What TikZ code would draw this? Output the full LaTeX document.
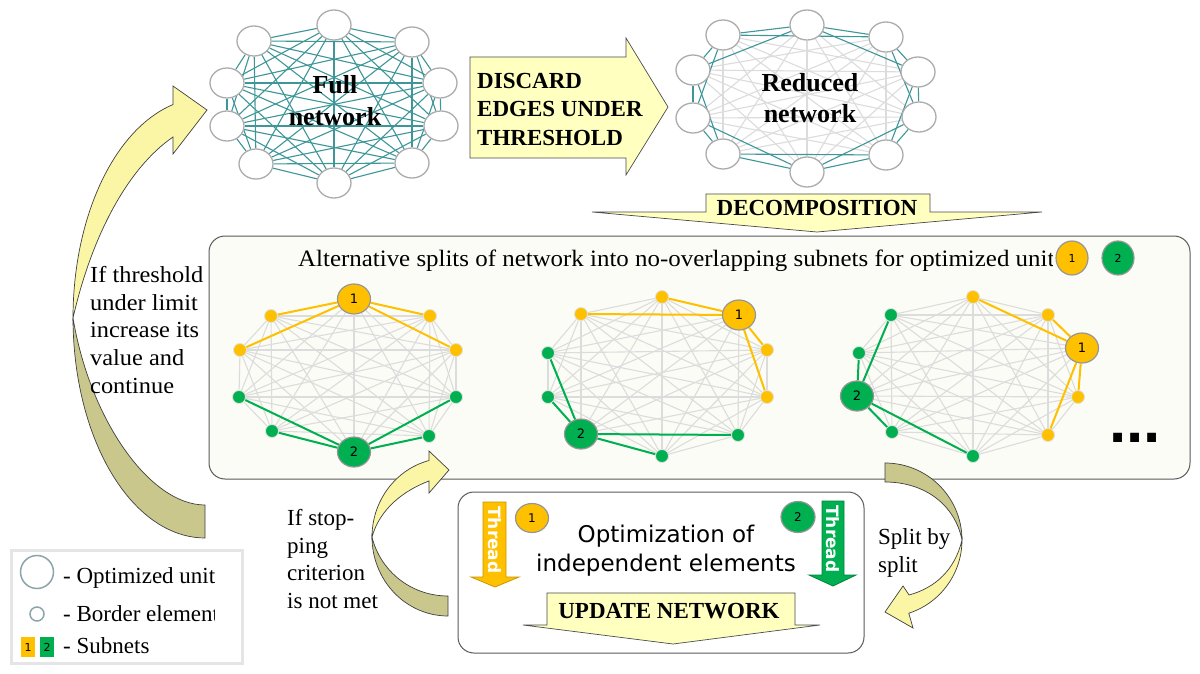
\documentclass[tikz,border=0pt]{standalone}
\usepackage{fontspec}
\setmainfont{Liberation Serif}
\newfontfamily\wserif[FakeStretch=1.06]{Liberation Serif}
\newfontfamily\dvs{DejaVu Sans}
\newfontfamily\lsans{Liberation Sans}
\usetikzlibrary{shapes.geometric}
\pgfdeclarelayer{back}
\pgfdeclarelayer{edges}
\pgfsetlayers{back,edges,main}
\definecolor{tealc}{RGB}{62,150,152}
\definecolor{nodegray}{RGB}{172,172,172}
\definecolor{edgegray}{RGB}{220,220,220}
\definecolor{orangec}{RGB}{255,192,0}
\definecolor{greenc}{RGB}{0,176,80}
\definecolor{paleyellow}{RGB}{255,255,192}
\definecolor{curveyellow}{RGB}{250,246,165}
\definecolor{olivec}{RGB}{201,199,140}
\definecolor{boxfill}{RGB}{252,252,246}
\definecolor{boxline}{RGB}{90,90,90}
\definecolor{legendline}{RGB}{229,229,229}
\definecolor{legendcirc}{RGB}{140,165,172}
\definecolor{smallborder}{RGB}{225,225,225}
\definecolor{bigborder}{RGB}{150,150,150}
\definecolor{orangeline}{RGB}{200,150,0}
\definecolor{greenline}{RGB}{0,130,60}
\tikzset{
  netnode/.style={ellipse, draw=nodegray, line width=1.3pt, fill=white, minimum width=34pt, minimum height=30pt, inner sep=0pt},
  tealedge/.style={draw=tealc, line width=1.1pt},
  grayedge/.style={draw=edgegray, line width=1.1pt},
  oedge/.style={draw=orangec, line width=2pt},
  gedge/.style={draw=greenc, line width=2pt},
  unitO/.style={ellipse, draw=bigborder, line width=1.2pt, fill=orangec, minimum width=33pt, minimum height=30pt, inner sep=0pt, font=\dvs\fontsize{13}{13}\selectfont},
  unitG/.style={unitO, fill=greenc},
  bO/.style={circle, draw=smallborder, line width=0.8pt, fill=orangec, minimum size=13pt, inner sep=0pt},
  bG/.style={bO, fill=greenc},
  blockarrow/.style={draw=black!70, line width=0.7pt, fill=paleyellow},
  curvearrow/.style={draw=black!75, line width=0.7pt},
  serif/.style={font=\fontsize{23}{27.6}\selectfont, inner sep=0pt},
  wideserif/.style={font=\wserif\fontsize{23}{27.6}\selectfont, inner sep=0pt},
  boldserif/.style={font=\bfseries\fontsize{23}{28.5}\selectfont, inner sep=0pt},
  threadtxt/.style={rotate=-90, font=\dvs\bfseries\fontsize{17}{17}\selectfont, text=white, inner sep=0pt}
}
\begin{document}
\begin{tikzpicture}[x=1pt,y=-1pt]
\useasboundingbox (0,0) rectangle (1200,674);
\begin{pgfonlayer}{back}
  \fill[white] (0,0) rectangle (1200,674);
  \node[draw=boxline, line width=1pt, fill=boxfill, rounded corners=16pt, minimum width=981pt, minimum height=243pt, inner sep=0pt] (splits) at (699.5,357.5) {};
  \node[draw=boxline, line width=1pt, fill=white, rounded corners=16pt, minimum width=406pt, minimum height=161pt, inner sep=0pt] (optbox) at (661,572.5) {};
  \node[draw=legendline, line width=3pt, fill=white, minimum width=231pt, minimum height=113pt, inner sep=0pt] (legend) at (126.5,606.5) {};
\end{pgfonlayer}

% ---------- full network
\foreach \n/\x/\y in {1/334/25, 2/412/42, 3/440/83, 4/441/126, 5/412/163, 6/334/183, 7/256/164, 8/227/126, 9/227/83, 10/254/41}
  \node[netnode] (F\n) at (\x,\y) {};
% ---------- reduced network
\foreach \n/\x/\y in {1/807/25, 2/886/37, 3/918/72, 4/919/117, 5/886/155, 6/807/172, 7/723/154, 8/693/118, 9/693/70, 10/723/35}
  \node[netnode] (R\n) at (\x,\y) {};

\begin{pgfonlayer}{edges}
\foreach \i in {1,...,10}{\foreach \j in {1,...,10}{\ifnum\i<\j \draw[tealedge] (F\i) -- (F\j);\fi}}
\foreach \i in {1,...,10}{\foreach \j in {1,...,10}{\ifnum\i<\j
  \pgfmathtruncatemacro\dd{min(abs(\i-\j),10-abs(\i-\j))}
  \ifnum\dd>2 \draw[grayedge] (R\i) -- (R\j);\fi\fi}}
\foreach \i in {1,...,10}{\foreach \j in {1,...,10}{\ifnum\i<\j
  \pgfmathtruncatemacro\dd{min(abs(\i-\j),10-abs(\i-\j))}
  \ifnum\dd<3 \draw[tealedge] (R\i) -- (R\j);\fi\fi}}
\end{pgfonlayer}

\node[font=\bfseries\fontsize{26}{32}\selectfont, align=center, inner sep=0pt] (fulltxt) at (335,101) {Full\\network};
\node[font=\bfseries\fontsize{26}{31}\selectfont, align=center, inner sep=0pt] (redtxt) at (810,98.5) {Reduced\\network};

% ---------- discard arrow
\filldraw[blockarrow] (470,57) -- (626,57) -- (626,38) -- (668,107) -- (626,175) -- (626,158) -- (470,158) -- cycle;
\node[boldserif, align=left, anchor=north west] (discardtxt) at (477,72.6) {DISCARD\\EDGES UNDER\\THRESHOLD};

% ---------- decomposition arrow
\filldraw[blockarrow] (706,194) -- (930,194) -- (930,212) -- (1042,212) -- (817,232) -- (592,212) -- (706,212) -- cycle;
\node[boldserif, anchor=base] (decomptxt) at (817,215) {DECOMPOSITION};

% ---------- splits title
\begin{scope}
\clip (290,240) rectangle (1052,280);
\node[font=\wserif\fontsize{23.5}{23.5}\selectfont, inner sep=0pt, anchor=base west] (title) at (298,266) {Alternative splits of network into no-overlapping subnets for optimized units};
\end{scope}
\node[unitO, minimum width=32pt, minimum height=34pt, font=\dvs\fontsize{11}{11}\selectfont] (tu1) at (1072,258) {1};
\node[unitG, minimum width=32pt, minimum height=34pt, font=\dvs\fontsize{11}{11}\selectfont] (tu2) at (1118,258) {2};

% ---------- subnet graph A
\node[unitO] (A1) at (354,299) {1};
\node[bO] (A2) at (430,316) {};
\node[bO] (A3) at (456,350) {};
\node[bG] (A4) at (456,397) {};
\node[bG] (A5) at (429,436) {};
\node[unitG] (A6) at (354,452) {2};
\node[bG] (A7) at (272,431) {};
\node[bG] (A8) at (239,397) {};
\node[bO] (A9) at (240,350) {};
\node[bO] (A10) at (271,316) {};
% ---------- subnet graph B
\node[bO] (B1) at (662,297) {};
\node[unitO] (B2) at (739,315) {1};
\node[bO] (B3) at (767,350) {};
\node[bO] (B4) at (767,397) {};
\node[bG] (B5) at (738,435) {};
\node[bG] (B6) at (662,456) {};
\node[unitG] (B7) at (581,434) {2};
\node[bG] (B8) at (548,397) {};
\node[bG] (B9) at (548,353) {};
\node[bO] (B10) at (581,314) {};
% ---------- subnet graph C
\node[bO] (C1) at (973,297) {};
\node[bO] (C2) at (1048,315) {};
\node[unitO] (C3) at (1082,348) {1};
\node[bO] (C4) at (1078,397) {};
\node[bO] (C5) at (1048,435) {};
\node[bG] (C6) at (973,456) {};
\node[bG] (C7) at (892,432) {};
\node[unitG] (C8) at (857,396) {2};
\node[bG] (C9) at (859,353) {};
\node[bG] (C10) at (891,315) {};

\begin{pgfonlayer}{edges}
\foreach \g in {A,B,C}{\foreach \i in {1,...,10}{\foreach \j in {1,...,10}{\ifnum\i<\j \draw[grayedge] (\g\i) -- (\g\j);\fi}}}
\foreach \a/\b in {A1/A2,A1/A3,A1/A9,A1/A10,B2/B1,B2/B10,B2/B3,B2/B4,C3/C1,C3/C2,C3/C4,C3/C5}
  \draw[oedge] (\a) -- (\b);
\foreach \a/\b in {A6/A4,A6/A5,A6/A7,A6/A8,B7/B9,B7/B8,B7/B5,B7/B6,C8/C10,C8/C9,C8/C7,C8/C6}
  \draw[gedge] (\a) -- (\b);
\end{pgfonlayer}

\node[font=\lsans\bfseries\fontsize{62}{62}\selectfont, anchor=base, inner sep=0pt] (dots) at (1135,442) {...};

% ---------- left curved arrow
\filldraw[curvearrow, fill=olivec]
  plot[variable=\t, domain=180:90, samples=40] ({205+132*cos(\t)}, {318+220*sin(\t)})
  -- (205,505) .. controls (150,505) and (90,420) .. (73,318) -- cycle;
\filldraw[curvearrow, fill=curveyellow]
  plot[variable=\t, domain=180:256, samples=40] ({205+132*cos(\t)}, {318+220*sin(\t)})
  -- (173,86) -- (207,110) -- (173,154) -- (173,137)
  .. controls (128,168) and (92,235) .. (73,318) -- cycle;
\begin{scope}
\clip (85,255) rectangle (202,405);
\node[wideserif, align=left, anchor=north west] (thrtxt) at (90,266.3) {If threshold\\under limit\\increase its\\value and\\continue};
\end{scope}

% ---------- middle curved arrow
\filldraw[curvearrow, fill=olivec]
  plot[variable=\t, domain=180:90, samples=30] ({448+76*cos(\t)}, {537+79*sin(\t)})
  -- (448,596) .. controls (410,596) and (380,570) .. (372,537) -- cycle;
\filldraw[curvearrow, fill=curveyellow]
  plot[variable=\t, domain=180:255.5, samples=30] ({448+76*cos(\t)}, {537+79*sin(\t)})
  -- (429,451) -- (449,470) -- (429,493) -- (429,481)
  .. controls (405,490) and (380,508) .. (372,537) -- cycle;
\node[serif, align=left, anchor=north west] (stoptxt) at (287,509.3) {If stop-\\ping\\criterion\\is not met};

% ---------- right curved arrow
\filldraw[curvearrow, fill=olivec]
  plot[variable=\t, domain=270:360, samples=30] ({885+77*cos(\t)}, {540+77*sin(\t)})
  .. controls (955,505) and (925,482) .. (885,482) -- cycle;
\filldraw[curvearrow, fill=curveyellow]
  plot[variable=\t, domain=0:72, samples=30] ({885+77*cos(\t)}, {540+77*sin(\t)})
  -- (913,628) -- (885,612) -- (903,586) -- (909,595)
  .. controls (935,588) and (955,570) .. (962,540) -- cycle;
\node[serif, align=left, anchor=north west] (splittxt) at (878,528.5) {Split by\\split};

% ---------- optimization box content
\filldraw[draw=orangeline, line width=0.8pt, fill=orangec] (483,502) -- (506,502) -- (506,577) -- (519,577) -- (495,587) -- (471,577) -- (483,577) -- cycle;
\node[threadtxt] (th1) at (494.5,540) {Thread};
\filldraw[draw=greenline, line width=0.8pt, fill=greenc] (822,501) -- (844,501) -- (844,575) -- (856,575) -- (833,586) -- (809,575) -- (822,575) -- cycle;
\node[threadtxt] (th2) at (833,539) {Thread};
\node[unitO, minimum width=33pt, minimum height=29pt, font=\dvs\fontsize{12}{12}\selectfont] (bu1) at (532,518) {1};
\node[unitG, minimum width=34pt, minimum height=31pt, font=\dvs\fontsize{12}{12}\selectfont] (bu2) at (798,517) {2};
\begin{scope}
\clip (520,505) rectangle (800,590);
\node[font=\dvs\fontsize{23}{29.5}\selectfont, align=center, anchor=north, inner sep=0pt] (opttxt) at (666,524.5) {Optimization of\\independent elements};
\end{scope}
\filldraw[blockarrow] (547,593) -- (795,593) -- (795,625) -- (820,625) -- (673,644) -- (523,625) -- (547,625) -- cycle;
\node[boldserif, anchor=base] (updtxt) at (669,618) {UPDATE NETWORK};

% ---------- legend
\node[circle, draw=legendcirc, line width=1.5pt, fill=white, minimum size=33pt, inner sep=0pt] (lgU) at (37,572) {};
\node[circle, draw=legendcirc, line width=1.5pt, fill=white, minimum size=14pt, inner sep=0pt] (lgB) at (37,614) {};
\node[fill=orangec, minimum width=14pt, minimum height=20pt, inner sep=0pt, font=\dvs\fontsize{11}{11}\selectfont] (lg1) at (28,647) {1};
\node[fill=greenc, minimum width=14pt, minimum height=20pt, inner sep=0pt, font=\dvs\fontsize{11}{11}\selectfont] (lg2) at (47,647) {2};
\node[serif, anchor=base west] (lgt1) at (63,583) {- Optimized unit};
\begin{scope}
\clip (55,595) rectangle (214,632);
\node[serif, anchor=base west] (lgt2) at (63,621) {- Border element};
\end{scope}
\node[serif, anchor=base west] (lgt3) at (63,653) {- Subnets};
\end{tikzpicture}
\end{document}
